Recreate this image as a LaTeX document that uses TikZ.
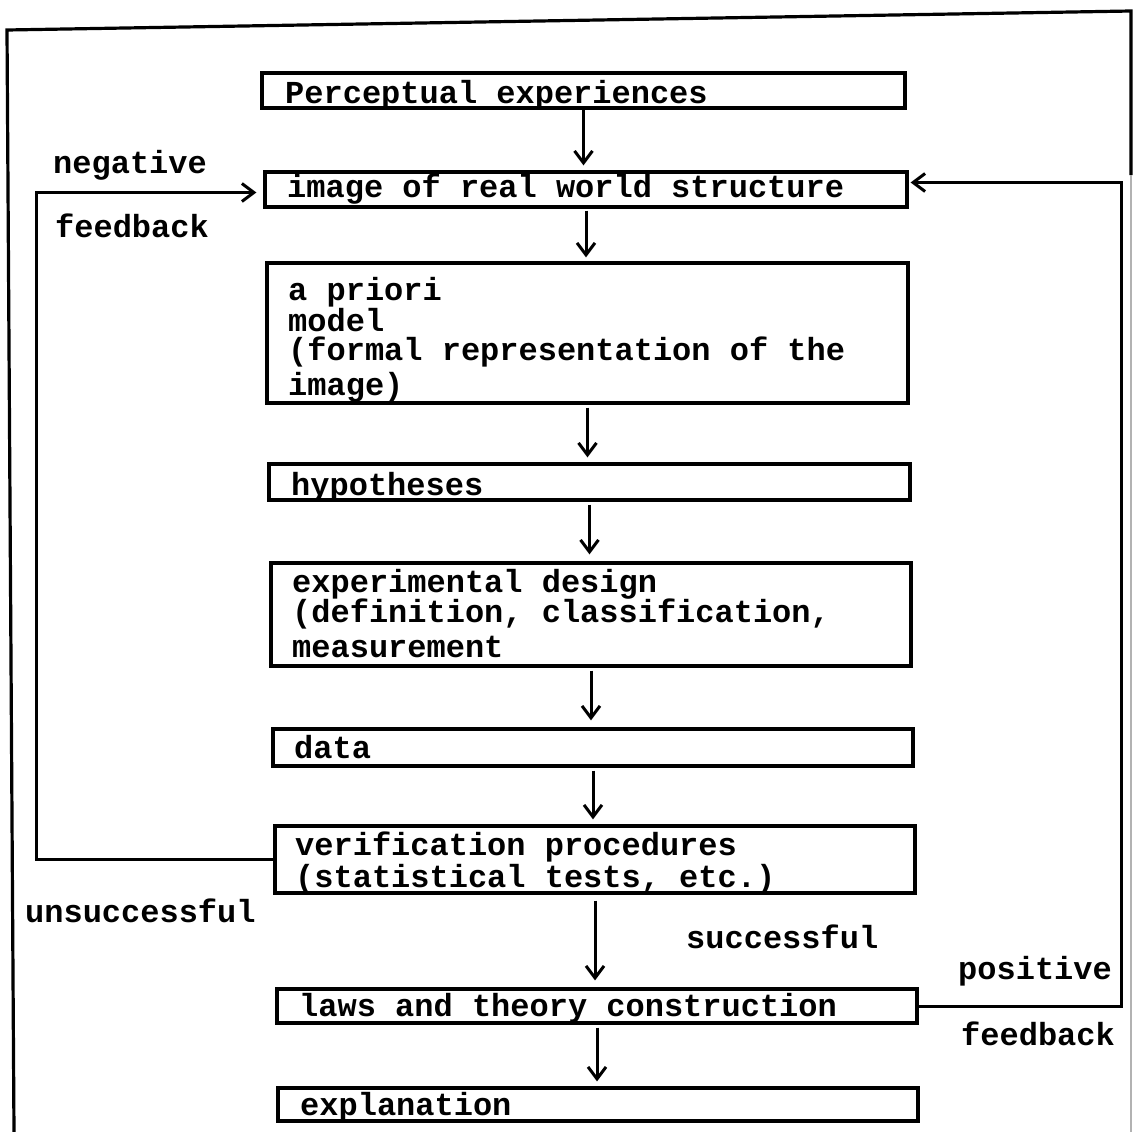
\documentclass[tikz,border=0pt]{standalone}
\usepackage{fontspec}
\newfontfamily\cour{Liberation Mono Bold}
\usetikzlibrary{arrows.meta}
\begin{document}
\begin{tikzpicture}[x=1pt,y=-1pt,
  box/.style={draw,line width=3.2pt,rectangle,inner sep=0pt,minimum width=#1},
  box/.default=641pt,
  txt/.style={anchor=base west,inner sep=0pt,font=\cour\fontsize{32}{31}\selectfont},
  flow/.style={line width=3pt,-{Straight Barb[length=12pt,width=18pt,line width=3pt]}},
]
\useasboundingbox (0,0) rectangle (1133,1132);
% outer frame
\draw[line width=3.2pt] (14,1132) -- (7,30) -- (1131,11) -- (1131,175);
\draw[line width=1.5pt,black!30] (1131,175) -- (1131,1132);

% boxes
\node[box=643pt,minimum height=35pt] (p1) at (583.5,90.5) {};
\node[box=642pt,minimum height=35pt] (p2) at (586,189.5) {};
\node[box=641pt,minimum height=140pt] (p3) at (587.5,333) {};
\node[box=641pt,minimum height=36pt] (p4) at (589.5,482) {};
\node[box=640pt,minimum height=103pt] (p5) at (591,614.5) {};
\node[box=640pt,minimum height=37pt] (p6) at (593,747.5) {};
\node[box=640pt,minimum height=67pt] (p7) at (595,859.5) {};
\node[box=640pt,minimum height=34pt] (p8) at (597,1006) {};
\node[box=640pt,minimum height=33pt] (p9) at (598,1104.5) {};

% box texts
\node[txt] (t1) at (285,103) {Perceptual experiences};
\node[txt] (t2) at (287,197) {image of real world structure};
\node[txt] (t3a) at (288,300) {a priori};
\node[txt] (t3b) at (288,331) {model};
\node[txt] (t3c) at (288,360) {(formal representation of the};
\node[txt] (t3d) at (288,395) {image)};
\node[txt] (t4) at (291,495) {hypotheses};
\node[txt] (t5a) at (292,592) {experimental design};
\node[txt] (t5b) at (292,622) {(definition, classification,};
\node[txt] (t5c) at (292,657) {measurement};
\node[txt] (t6) at (294,758) {data};
\node[txt] (t7a) at (295,855) {verification procedures};
\node[txt] (t7b) at (295,887) {(statistical tests, etc.)};
\node[txt] (t8) at (299,1016) {laws and theory construction};
\node[txt] (t9) at (300,1115) {explanation};

% side labels
\node[txt] (lneg) at (53,173) {negative};
\node[txt] (lfb1) at (55,237) {feedback};
\node[txt] (luns) at (25,922) {unsuccessful};
\node[txt] (lsuc) at (686,948) {successful};
\node[txt] (lpos) at (958,979) {positive};
\node[txt] (lfb2) at (961,1045) {feedback};

% down arrows
\draw[flow,shorten >=5pt] (p1.south) -- (p1.south |- p2.north);
\draw[flow,shorten >=4pt,shorten <=2pt] (p2.south) -- (p2.south |- p3.north);
\draw[flow,shorten >=5pt,shorten <=3pt] (p3.south) -- (p3.south |- p4.north);
\draw[flow,shorten >=7pt,shorten <=3pt] (p4.south) -- (p4.south |- p5.north);
\draw[flow,shorten >=7pt,shorten <=3pt] (p5.south) -- (p5.south |- p6.north);
\draw[flow,shorten >=5pt,shorten <=3pt] (p6.south) -- (p6.south |- p7.north);
\draw[flow,shorten >=7pt,shorten <=6pt] (p7.south) -- (p7.south |- p8.north);
\draw[flow,shorten >=5pt,shorten <=3pt] (p8.south) -- (p8.south |- p9.north);

% feedback loops
\coordinate (lx) at (36,0);
\coordinate (rx) at (1121,0);
\draw[flow,shorten >=7pt] (p7.west) -- (p7.west -| lx) |- ([yshift=-3pt]p2.west);
\draw[flow,shorten >=2pt] (p8.east) -- (p8.east -| rx) |- ([yshift=7pt]p2.east);
\end{tikzpicture}
\end{document}
